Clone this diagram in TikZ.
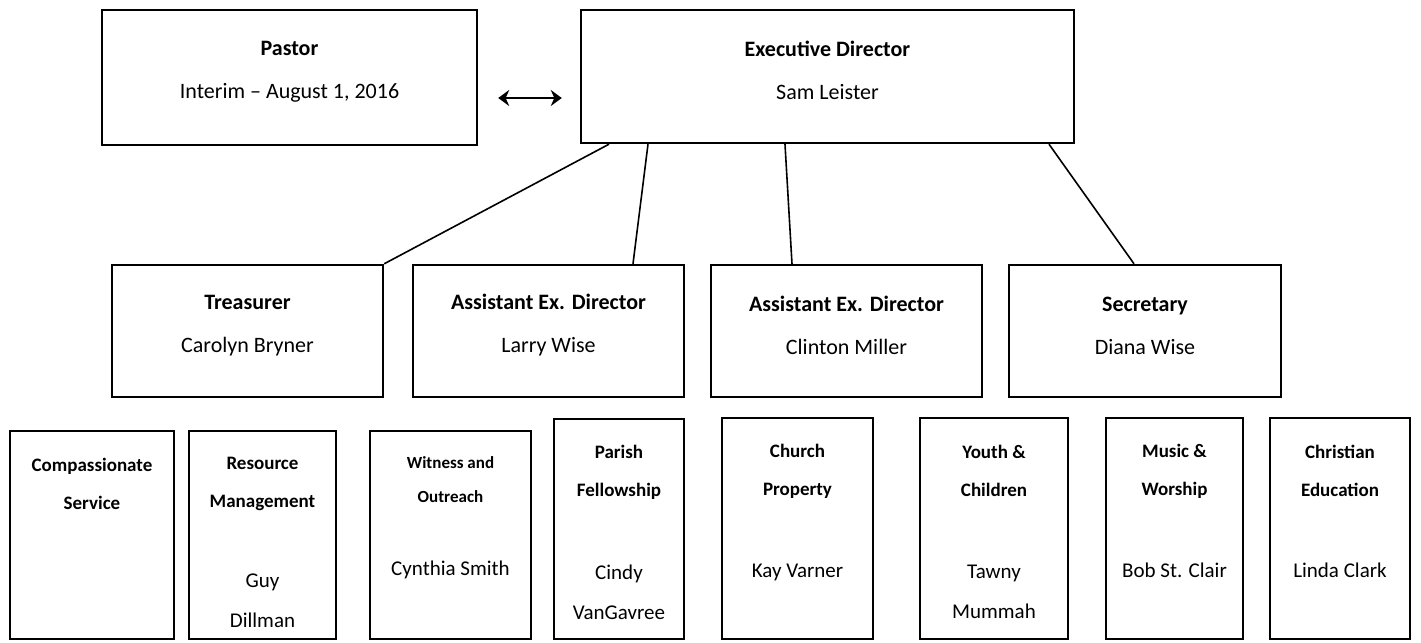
\documentclass[tikz,border=0pt]{standalone}
\usepackage{fontspec}
\setmainfont{Carlito}
\usetikzlibrary{arrows.meta}
\tikzset{
	orgbox/.style 2 args={draw, line width=1.2pt, minimum width=#1*0.5pt, minimum height=#2*0.5pt, inner sep=0pt},
	headtext/.style={align=center, font=\fontsize{11}{21.5}\selectfont},
	unittitle/.style={align=center, font=\fontsize{9.5}{19}\selectfont\bfseries},
	unitname/.style={align=center, font=\fontsize{10.5}{20}\selectfont},
	link/.style={line width=0.8pt}
}
\begin{document}
\begin{tikzpicture}[x=0.5pt,y=-0.5pt,>={Stealth[length=5.5pt,width=8pt]}]
	\useasboundingbox (0,0) rectangle (1421,643);

	\draw (289.5,77.5) node[orgbox={375}{135}] (pastor) {};
	\draw (289.5,71.5) node[headtext] (pastortext) {\textbf{Pastor}\\Interim – August 1, 2016};
	\draw (827.5,76.5) node[orgbox={493}{133}] (exec) {};
	\draw (827.5,70) node[headtext] (exectext) {\textbf{Executive Director}\\Sam Leister};
	\draw[<->, line width=1.4pt, shorten <=10pt, shorten >=9pt] (pastor.east |- 0,98) -- (exec.west |- 0,98);

	\draw (247.5,331) node[orgbox={271}{132}] (treasurer) {};
	\draw (247.5,325.5) node[headtext] (treasurertext) {\textbf{Treasurer}\\Carolyn Bryner};
	\draw (548.5,331) node[orgbox={271}{132}] (assistlarry) {};
	\draw (548.5,325.5) node[headtext] (assistlarrytext) {\textbf{Assistant Ex. Director}\\Larry Wise};
	\draw (846.5,331) node[orgbox={271}{132}] (assistclinton) {};
	\draw (846.5,325.5) node[headtext] (assistclintontext) {\textbf{Assistant Ex. Director}\\Clinton Miller};
	\draw (1145,331) node[orgbox={272}{132}] (secretary) {};
	\draw (1145,325.5) node[headtext] (secretarytext) {\textbf{Secretary}\\Diana Wise};

	\draw[link] (exec.south -| 609,0) -- (treasurer.north east);
	\draw[link] (exec.south -| 648,0) -- (assistlarry.north -| 633,0);
	\draw[link] (exec.south -| 785,0) -- (assistclinton.north -| 792,0);
	\draw[link] (exec.south -| 1049,0) -- (secretary.north -| 1134,0);

	\draw (92,535) node[orgbox={164}{208}] (compassion) {};
	\draw (92,484) node[unittitle] (compassiontitle) {Compassionate\\Service};
	\draw (262.5,535) node[orgbox={147}{208}] (resource) {};
	\draw (262.5,484) node[unittitle] (resourcetitle) {Resource\\Management};
	\draw (262.5,601) node[unitname] (resourcename) {Guy\\Dillman};
	\draw (450.5,535) node[orgbox={161}{208}] (witness) {};
	\draw (450.5,480) node[unittitle, font=\fontsize{8.5}{17}\selectfont\bfseries] (witnesstitle) {Witness and\\Outreach};
	\draw (450.5,570) node[unitname] (witnessname) {Cynthia Smith};
	\draw (619,529) node[orgbox={130}{220}] (parish) {};
	\draw (619,472.5) node[unittitle] (parishtitle) {Parish\\Fellowship};
	\draw (619,592) node[unitname] (parishname) {Cindy\\VanGavree};
	\draw (797.5,528.5) node[orgbox={151}{221}] (church) {};
	\draw (797.5,471) node[unittitle] (churchtitle) {Church\\Property};
	\draw (797.5,572) node[unitname] (churchname) {Kay Varner};
	\draw (994,528.5) node[orgbox={148}{221}] (youth) {};
	\draw (994,471) node[unittitle] (youthtitle) {Youth \&\\Children};
	\draw (994,592) node[unitname] (youthname) {Tawny\\Mummah};
	\draw (1174.5,528.5) node[orgbox={137}{221}] (music) {};
	\draw (1174.5,471) node[unittitle] (musictitle) {Music \&\\Worship};
	\draw (1174.5,570) node[unitname] (musicname) {Bob St. Clair};
	\draw (1340,528.5) node[orgbox={140}{221}] (education) {};
	\draw (1340,471) node[unittitle] (educationtitle) {Christian\\Education};
	\draw (1340,570) node[unitname] (educationname) {Linda Clark};
\end{tikzpicture}
\end{document}
